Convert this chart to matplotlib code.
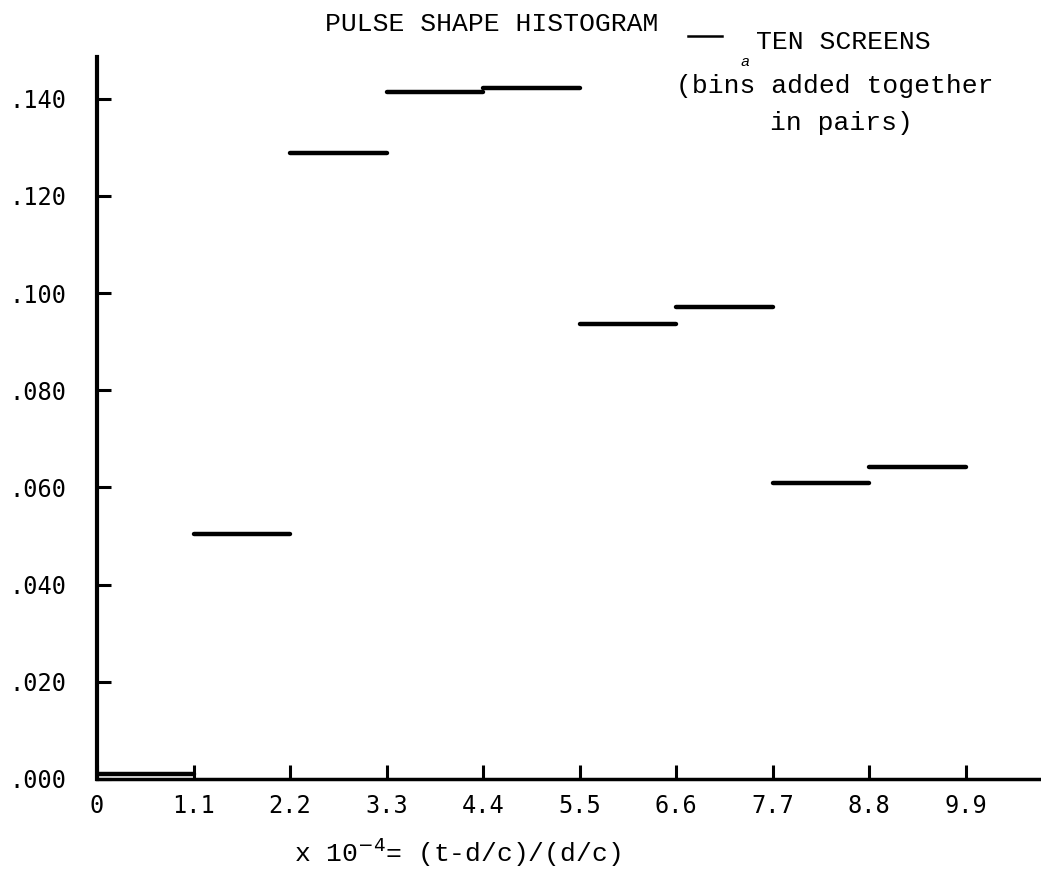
import matplotlib
matplotlib.use("Agg")
import matplotlib.pyplot as plt

# bin edges (x 10^-4) and pulse-shape histogram heights
bin_left = [0.0, 1.1, 2.2, 3.3, 4.4, 5.5, 6.6, 7.7, 8.8]
bin_right = [1.1, 2.2, 3.3, 4.4, 5.5, 6.6, 7.7, 8.8, 9.9]
heights = [0.001, 0.0505, 0.1288, 0.1413, 0.1422, 0.0937, 0.0972, 0.0610, 0.0643]

x_ticks = [0, 1.1, 2.2, 3.3, 4.4, 5.5, 6.6, 7.7, 8.8, 9.9]
x_labels = ["0", "1.1", "2.2", "3.3", "4.4", "5.5", "6.6", "7.7", "8.8", "9.9"]
y_ticks = [0.0, 0.02, 0.04, 0.06, 0.08, 0.10, 0.12, 0.14]
y_labels = [".000", ".020", ".040", ".060", ".080", ".100", ".120", ".140"]

mono = "Liberation Mono"
tick_font = "DejaVu Sans Mono"

fig = plt.figure(figsize=(10.41, 8.96), dpi=100)
ax = fig.add_axes([0.0932, 0.1306, 0.9068, 0.8058])

# histogram tops drawn as flat strokes
ax.hlines(heights, bin_left, bin_right, color="black", lw=3.2, capstyle="round")

ax.set_xlim(0, 10.76)
ax.set_ylim(0, 0.1486)

for side in ["top", "right"]:
    ax.spines[side].set_visible(False)
ax.spines["left"].set_linewidth(3)
ax.spines["bottom"].set_linewidth(2.5)

ax.set_xticks(x_ticks)
ax.set_xticklabels(x_labels, fontfamily=tick_font, fontsize=17)
ax.set_yticks(y_ticks)
ax.set_yticklabels(y_labels, fontfamily=tick_font, fontsize=17)
ax.tick_params(axis="both", direction="in", length=10, width=2.2)
ax.tick_params(axis="x", pad=11)
ax.tick_params(axis="y", pad=22)

# title and legend-like notes, typed on the page
fig.text(0.472, 0.973, "PULSE SHAPE HISTOGRAM", fontfamily=mono,
         fontsize=19, ha="center", va="center")
fig.add_artist(plt.Line2D([0.661, 0.694], [0.960, 0.960], color="black", lw=1.8))
fig.text(0.810, 0.953, "TEN SCREENS", fontfamily=mono, fontsize=19,
         ha="center", va="center")
fig.text(0.716, 0.931, "a", fontfamily=mono, fontsize=11, style="italic",
         ha="center", va="center")
fig.text(0.802, 0.904, "(bins added together", fontfamily=mono, fontsize=19,
         ha="center", va="center")
fig.text(0.808, 0.863, "in pairs)", fontfamily=mono, fontsize=19,
         ha="center", va="center")

fig.text(0.439, 0.049, r"x 10$^{-4}$= (t-d/c)/(d/c)", fontfamily=mono,
         fontsize=19, ha="center", va="center")

fig.savefig("out.png", dpi=100)
